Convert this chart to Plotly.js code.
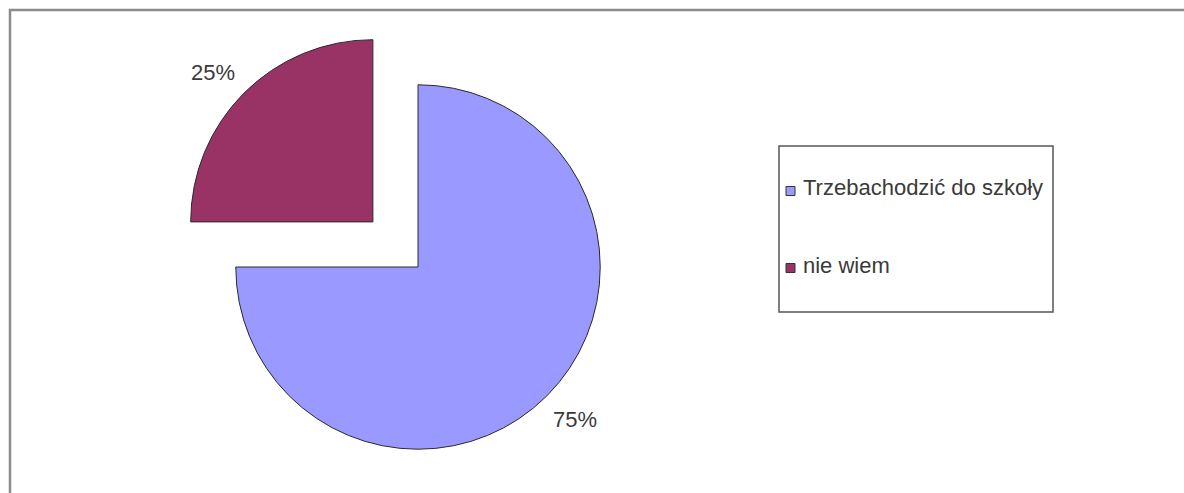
<!DOCTYPE html>
<html>
<head>
<meta charset="utf-8">
<script src="https://cdn.plot.ly/plotly-3.0.1.min.js"></script>
<style>
html, body { margin: 0; padding: 0; overflow: hidden; background: #fff; }
#chart { width: 1184px; height: 534px; }
</style>
</head>
<body>
<div id="chart"></div>
<script>
// ---- data ----
const labels = ['Trzebachodzić do szkoły', 'nie wiem'];
const values = [75, 25];
const colors = ['#9999FF', '#993366'];

// ---- layout helpers (pixel -> paper) ----
const W = 1184, H = 534;
const px = x => x / W;
const py = y => 1 - y / H;
const FONT = 'Liberation Sans, Arial, sans-serif';
const TEXTCOL = '#3a3a3a';

const trace = {
  type: 'pie',
  labels: labels,
  values: values,
  sort: false,
  direction: 'clockwise',
  rotation: 0,
  pull: [0, 0.35],
  marker: { colors: colors, line: { color: '#2a2a2a', width: 1 } },
  textinfo: 'none',
  domain: { x: [px(418 - 300), px(418 + 300)], y: [py(513), py(21)] },
  hoverinfo: 'none',
  showlegend: false
};

const shapes = [
  // outer chart border
  { type: 'rect', xref: 'paper', yref: 'paper', x0: px(10), x1: px(1220), y0: py(560), y1: py(10),
    line: { color: '#8c8c8c', width: 2.5 }, fillcolor: 'rgba(0,0,0,0)', layer: 'below' },
  // legend box
  { type: 'rect', xref: 'paper', yref: 'paper', x0: px(779), x1: px(1053), y0: py(312), y1: py(146),
    line: { color: '#555555', width: 1.5 }, fillcolor: '#ffffff', layer: 'below' }
];
const annotations = [];

// percentage labels (computed from values), placed outside their slices
const total = values.reduce((a, b) => a + b, 0);
const pctPos = [[575, 419], [213, 72]];
values.forEach((v, i) => {
  annotations.push({ xref: 'paper', yref: 'paper', x: px(pctPos[i][0]), y: py(pctPos[i][1]),
    xanchor: 'center', yanchor: 'middle', showarrow: false,
    text: Math.round(v / total * 100) + '%',
    font: { family: FONT, size: 22, color: TEXTCOL } });
});

// legend
const legendTop = 191, legendGap = 77;
labels.forEach((lab, i) => {
  const cy = legendTop + i * legendGap;
  shapes.push({ type: 'rect', xref: 'paper', yref: 'paper',
    x0: px(786), x1: px(795), y0: py(cy + 4.5), y1: py(cy - 4.5),
    fillcolor: colors[i], line: { color: '#333333', width: 1 } });
  annotations.push({ xref: 'paper', yref: 'paper', x: px(801), y: py(cy - 3),
    xanchor: 'left', yanchor: 'middle', showarrow: false, text: lab,
    font: { family: FONT, size: 22, color: TEXTCOL } });
});

const layout = {
  width: W, height: H,
  margin: { l: 0, r: 0, t: 0, b: 0 },
  paper_bgcolor: '#ffffff',
  showlegend: false,
  shapes: shapes,
  annotations: annotations
};

Plotly.newPlot('chart', [trace], layout, { displayModeBar: false, staticPlot: true });
</script>
</body>
</html>
